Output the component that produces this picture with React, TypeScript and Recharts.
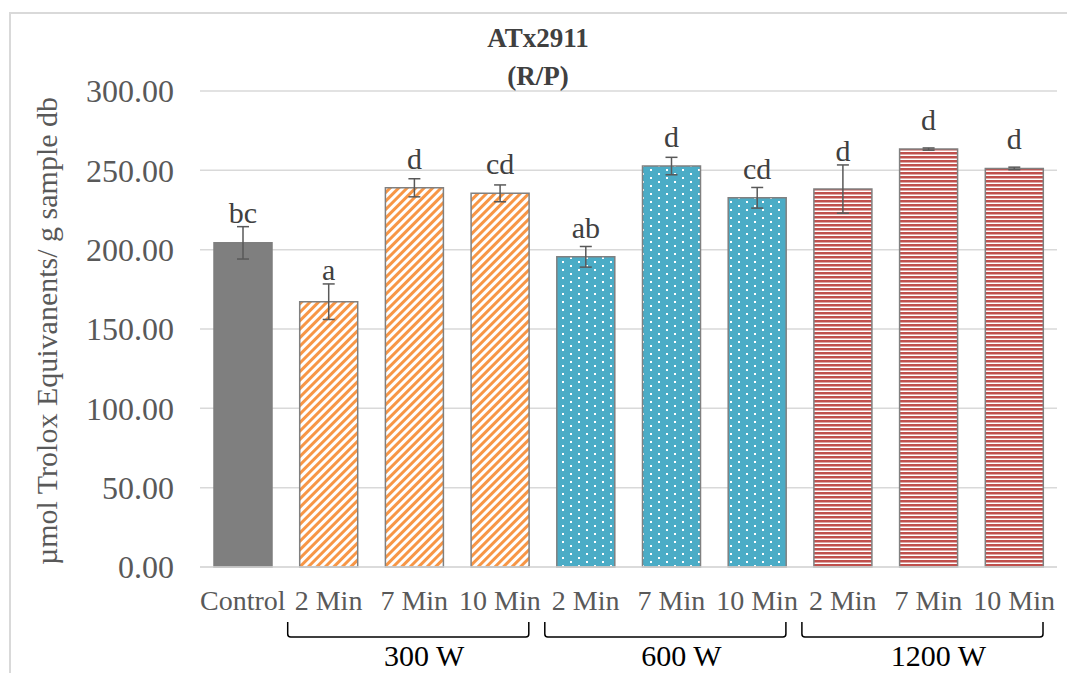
import React from "react";
import {
  BarChart,
  Bar,
  XAxis,
  YAxis,
  CartesianGrid,
  ErrorBar,
  LabelList,
  Cell,
} from "recharts";

const categories = ["Control", "2 Min", "7 Min", "10 Min", "2 Min", "7 Min", "10 Min", "2 Min", "7 Min", "10 Min"];
const groups = ["", "300 W", "300 W", "300 W", "600 W", "600 W", "600 W", "1200 W", "1200 W", "1200 W"];
const values = [204.3, 167.2, 239.0, 235.5, 195.5, 252.7, 232.7, 238.2, 263.4, 251.2];
const errors = [10.2, 11.2, 5.7, 5.3, 6.5, 5.5, 6.5, 15.2, 0.7, 0.8];
const letters = ["bc", "a", "d", "cd", "ab", "d", "cd", "d", "d", "d"];
const yTicks = [0, 50, 100, 150, 200, 250, 300];

const data = categories.map((c, i) => ({
  key: "c" + i,
  name: c,
  group: groups[i],
  value: values[i],
  err: errors[i],
  letter: letters[i],
}));

const W = 1067;
const H = 665;
const TOP = 83;
const PLOT_H = 476;
const AXIS_Y = TOP + PLOT_H;
const LEFT = 192;
const RIGHT = 18;
const BAND = (W - LEFT - RIGHT) / categories.length;
const FONT = "'Liberation Serif', 'Times New Roman', serif";

const fillFor: Record<string, string> = {
  "": "#7f7f7f",
  "300 W": "url(#orangeDiag)",
  "600 W": "url(#tealDots)",
  "1200 W": "url(#redLines)",
};

const CategoryTick = (props: any) => {
  const { x, index } = props;
  const i = index ?? 0;
  const g = groups[i];
  const start = g !== "" && (i === 0 || groups[i - 1] !== g);
  let n = 0;
  if (start) {
    while (i + n < groups.length && groups[i + n] === g) n++;
  }
  const left = x - BAND / 2 + 2;
  const right = x - BAND / 2 + n * BAND - 14;
  const top = AXIS_Y + 55;
  const bot = AXIS_Y + 70;
  const r = 3;
  return (
    <g>
      <text x={x} y={AXIS_Y + 43} textAnchor="middle" fontSize={28} fill="#595959" fontFamily={FONT}>
        {categories[i]}
      </text>
      {start && (
        <>
          <path
            d={`M${left},${top} L${left},${bot - r} Q${left},${bot} ${left + r},${bot} L${right - r},${bot} Q${right},${bot} ${right},${bot - r} L${right},${top}`}
            fill="none"
            stroke="#000"
            strokeWidth={1.5}
          />
          <text
            x={x + (BAND * (n - 1)) / 2 + 10}
            y={AXIS_Y + 99}
            textAnchor="middle"
            fontSize={30}
            fill="#000"
            fontFamily={FONT}
          >
            {g}
          </text>
        </>
      )}
    </g>
  );
};

const renderLetter = (props: any) => {
  const { x, y, width, index, value } = props;
  const i = index ?? 0;
  const errTop = y - errors[i] * (PLOT_H / 300);
  const base = Math.min(y - 19, errTop - 4);
  return (
    <text x={x + width / 2} y={base} textAnchor="middle" fontSize={30} fill="#404040" fontFamily={FONT}>
      {value}
    </text>
  );
};

export default function App() {
  return (
    <div style={{ position: "relative", width: W, height: H, overflow: "hidden", background: "#fff" }}>
      <div
        style={{
          position: "absolute",
          left: 1,
          top: 4,
          width: 1200,
          height: 800,
          borderLeft: "2px solid #d9d9d9",
          borderTop: "2px solid #d9d9d9",
        }}
      />
      <div style={{ position: "absolute", left: 0, top: 0 }}>
        <BarChart
          width={W}
          height={H}
          data={data}
          margin={{ top: TOP, right: RIGHT, bottom: 0, left: 0 }}
        >
          <defs>
            <pattern id="orangeDiag" width={6} height={6} patternUnits="userSpaceOnUse" patternTransform="rotate(45)">
              <rect width={6} height={6} fill="#fff" />
              <rect width={3} height={6} fill="#f79646" />
            </pattern>
            <pattern id="tealDots" width={16} height={8} patternUnits="userSpaceOnUse">
              <rect width={16} height={8} fill="#4bacc6" />
              <rect x={2} y={1} width={2} height={2} fill="#fff" />
              <rect x={10} y={5} width={2} height={2} fill="#fff" />
            </pattern>
            <pattern id="redLines" width={4} height={4} patternUnits="userSpaceOnUse">
              <rect width={4} height={4} fill="#fff" />
              <rect width={4} height={2.5} fill="#c0504d" />
            </pattern>
          </defs>
          <CartesianGrid vertical={false} stroke="#d9d9d9" strokeWidth={1.5} />
          <XAxis
            dataKey="key"
            height={H - TOP - PLOT_H}
            interval={0}
            tickLine={false}
            axisLine={{ stroke: "#d9d9d9", strokeWidth: 1.5 }}
            tick={<CategoryTick />}
          />
          <YAxis
            width={LEFT}
            domain={[0, 300]}
            ticks={yTicks}
            axisLine={false}
            tickLine={false}
            tickMargin={20}
            tickFormatter={(v: number) => v.toFixed(2)}
            tick={{ fontSize: 32, fill: "#595959", fontFamily: FONT }}
          />
          <Bar dataKey="value" barSize={58} isAnimationActive={false}>
            {data.map((d, i) => (
              <Cell
                key={d.key}
                fill={fillFor[d.group]}
                stroke={d.group === "" ? "#7f7f7f" : "#808080"}
                strokeWidth={1.5}
              />
            ))}
            <ErrorBar dataKey="err" width={6} stroke="#595959" strokeWidth={1.5} direction="y" />
            <LabelList dataKey="letter" content={renderLetter} />
          </Bar>
        </BarChart>
      </div>
      <svg
        width={W}
        height={H}
        style={{ position: "absolute", left: 0, top: 0, pointerEvents: "none" }}
      >
        <text x={530} y={39} textAnchor="middle" fontSize={27} fontWeight="bold" fill="#404040" fontFamily={FONT}>
          ATx2911
        </text>
        <text x={530} y={77} textAnchor="middle" fontSize={27} fontWeight="bold" fill="#404040" fontFamily={FONT}>
          (R/P)
        </text>
        <text
          transform={`translate(49, ${TOP + PLOT_H / 2 + 2}) rotate(-90)`}
          textAnchor="middle"
          fontSize={30}
          fill="#595959"
          fontFamily={FONT}
        >
          µmol Trolox Equivanents/ g sample db
        </text>
      </svg>
    </div>
  );
}
